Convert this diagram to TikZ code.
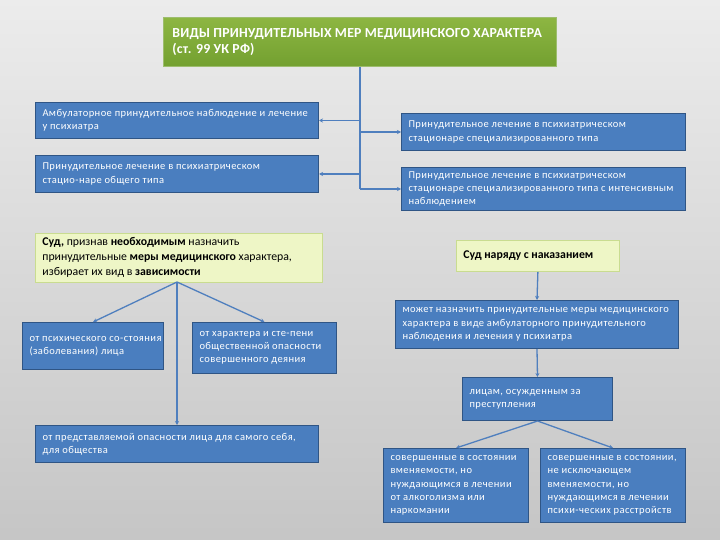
\documentclass[tikz,border=0pt]{standalone}
\usepackage{fontspec}
\setmainfont{Carlito}
\usetikzlibrary{arrows.meta}
\definecolor{bluefill}{HTML}{4A7EBF}
\definecolor{blueedge}{HTML}{2F5585}
\definecolor{linecol}{HTML}{4F7FBE}
\definecolor{greentop}{HTML}{8DB642}
\definecolor{greenbot}{HTML}{73A030}
\definecolor{yellowfill}{HTML}{EEF6C6}
\definecolor{yellowedge}{HTML}{C9DC90}
\newcommand{\mybox}[7]{%
  \node[#2, anchor=north west, inner xsep=0pt, inner ysep=0pt] (#1) at (#3,#4)
    {\parbox[c][#6pt][c]{#5pt}{\leftskip=7pt\rightskip=0pt plus 1fil\parfillskip=0pt plus 1fil #7}};}
\begin{document}
\begin{tikzpicture}[x=1pt,y=-1pt,
  bluebox/.style={draw=blueedge, line width=1pt, fill=bluefill, text=white,
    font=\fontsize{10.5}{13.3}\selectfont\addfontfeature{LetterSpace=4}},
  yellowbox/.style={draw=yellowedge, line width=0.8pt, fill=yellowfill, text=black,
    font=\fontsize{11.8}{15}\selectfont},
  titlebox/.style={draw=greenbot!70!white, line width=0.8pt, top color=greentop, bottom color=greenbot,
    text=white, font=\fontsize{13.8}{16}\selectfont\bfseries\addfontfeature{LetterSpace=1.5}},
  conn/.style={draw=linecol, line width=1.3pt},
  arr/.style={conn, -{Stealth[length=4pt,width=4pt]}}]
\useasboundingbox (0,0) rectangle (720,540);
\shade[top color=gray!15, bottom color=gray!45] (0,0) rectangle (720,540);

\mybox{title}{titlebox}{163}{17}{393}{49}{\hspace*{2pt}ВИДЫ ПРИНУДИТЕЛЬНЫХ МЕР МЕДИЦИНСКОГО ХАРАКТЕРА\\\hspace*{2pt}(ст. 99 УК РФ)}

\mybox{L1}{bluebox}{35}{102}{283}{36}{Амбулаторное принудительное наблюдение и лечение\\у психиатра}
\mybox{L2}{bluebox}{35}{155}{283}{37}{Принудительное лечение в психиатрическом\\стацио-наре общего типа}
\mybox{R1}{bluebox}{401}{113}{284}{37}{Принудительное лечение в психиатрическом\\стационаре специализированного типа}
\mybox{R2}{bluebox}{401}{167}{284}{43}{Принудительное лечение в психиатрическом\\стационаре специализированного типа с интенсивным\\наблюдением}

\draw[conn] (title.south) -- (title.south |- R2.west);
\draw[arr] (title.south |- L1.east) -- (L1.east);
\draw[arr] (title.south |- L2.east) -- (L2.east);
\draw[arr] (title.south |- R1.west) -- (R1.west);
\draw[arr] (title.south |- R2.west) -- (R2.west);

\mybox{Y1}{yellowbox}{35}{233}{287}{49}{\textbf{Суд,} признав \textbf{необходимым} назначить\\принудительные \textbf{меры медицинского} характера,\\избирает их вид в \textbf{зависимости}}
\mybox{C1}{bluebox}{22}{322}{141}{47}{от психического со-стояния\\(заболевания) лица}
\mybox{C2}{bluebox}{192}{322}{144}{51}{от характера и сте-пени\\общественной опасности\\совершенного деяния}
\mybox{B}{bluebox}{35}{425}{283}{37}{от представляемой опасности лица для самого себя,\\для общества}

\coordinate (yb) at (177,282);
\draw[arr] (yb) -- (C1.north);
\draw[arr] (yb) -- (C2.north);
\draw[arr] (yb) -- (yb |- B.north);

\mybox{Y2}{yellowbox}{456}{240}{163}{31}{\textbf{Суд наряду с наказанием}}
\mybox{M}{bluebox}{395}{300}{283}{48}{может назначить принудительные меры медицинского\\характера в виде амбулаторного принудительного\\наблюдения и лечения у психиатра}
\mybox{P}{bluebox}{462}{377}{150}{43}{лицам, осужденным за\\преступления}
\mybox{D1}{bluebox}{383}{448}{145}{74}{совершенные в состоянии\\вменяемости, но\\нуждающимся в лечении\\от алкоголизма или\\наркомании}
\mybox{D2}{bluebox}{540}{448}{145}{74}{совершенные в состоянии,\\не исключающем\\вменяемости, но\\нуждающимся в лечении\\психи-ческих расстройств}

\draw[arr] (Y2.south) -- (M.north);
\draw[arr] (M.south) -- (P.north);
\draw[arr] (P.south) -- (D1.north);
\draw[arr] (P.south) -- (D2.north);
\end{tikzpicture}
\end{document}
